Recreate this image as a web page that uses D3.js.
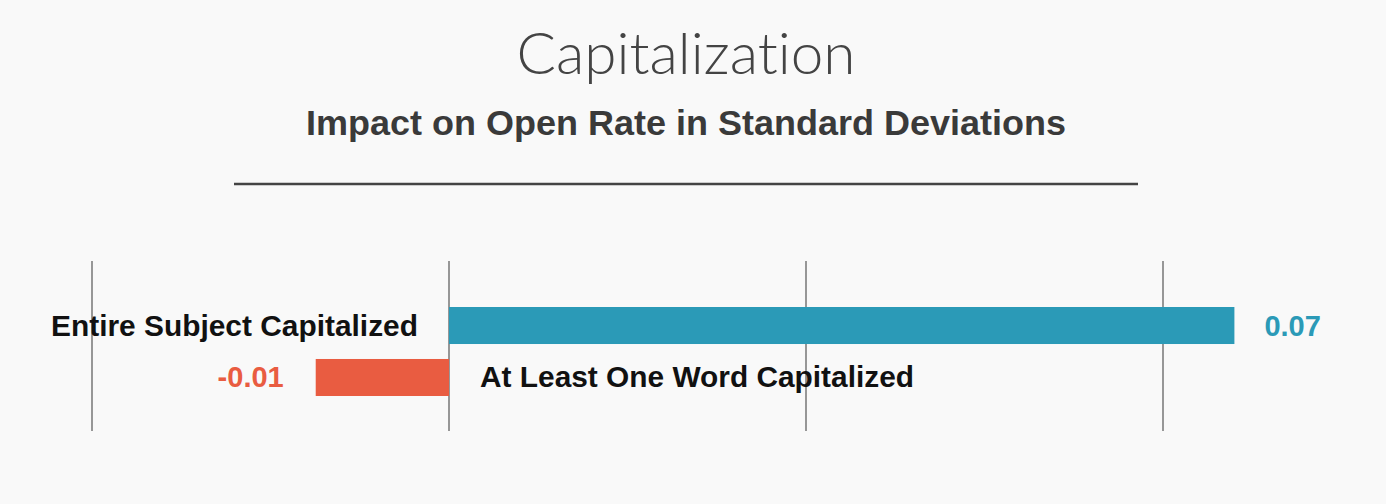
<!DOCTYPE html>
<html>
<head>
<meta charset="utf-8">
<script src="https://cdn.jsdelivr.net/npm/d3@7"></script>
<style>
  html, body { margin: 0; padding: 0; background: #f9f9f9; }
  svg { display: block; }
  text { font-variant-ligatures: none; }
</style>
</head>
<body>
<div id="chart"></div>
<script>
const categories = ["Entire Subject Capitalized", "At Least One Word Capitalized"];
const values = [0.066, -0.0112];
const valueLabels = ["0.07", "-0.01"];
const gridTicks = [-0.03, 0, 0.03, 0.06];
const colors = ["#2b9ab7", "#e95c41"];

const width = 1386;
const height = 504;

const svg = d3.select("#chart")
  .append("svg")
  .attr("width", width)
  .attr("height", height);

svg.append("rect")
  .attr("width", width)
  .attr("height", height)
  .attr("fill", "#f9f9f9");

// titles
svg.append("text")
  .attr("x", 686)
  .attr("y", 74)
  .attr("text-anchor", "middle")
  .attr("font-family", "Lato, 'Open Sans', sans-serif")
  .attr("font-weight", 300)
  .attr("font-size", 58)
  .attr("fill", "#444")
  .attr("textLength", 339)
  .attr("lengthAdjust", "spacingAndGlyphs")
  .text("Capitalization");

svg.append("text")
  .attr("x", 686)
  .attr("y", 135)
  .attr("text-anchor", "middle")
  .attr("font-family", "'Liberation Sans', Arial, sans-serif")
  .attr("font-weight", "bold")
  .attr("font-size", 35)
  .attr("fill", "#3a3a3a")
  .attr("textLength", 760)
  .attr("lengthAdjust", "spacingAndGlyphs")
  .text("Impact on Open Rate in Standard Deviations");

svg.append("line")
  .attr("x1", 234)
  .attr("x2", 1138)
  .attr("y1", 184)
  .attr("y2", 184)
  .attr("stroke", "#444")
  .attr("stroke-width", 2.5);

const x = d3.scaleLinear()
  .domain([-0.03, 0.06])
  .range([92, 1163]);

const y = d3.scaleBand()
  .domain(categories)
  .range([307, 396])
  .paddingInner(0.288)
  .paddingOuter(0);

// gridlines
svg.append("g")
  .selectAll("line")
  .data(gridTicks)
  .enter()
  .append("line")
  .attr("x1", d => x(d))
  .attr("x2", d => x(d))
  .attr("y1", 261)
  .attr("y2", 431)
  .attr("stroke", "#555")
  .attr("stroke-width", 1.2);

const rows = categories.map((c, i) => ({ cat: c, value: values[i], label: valueLabels[i], color: colors[i] }));

svg.append("g")
  .selectAll("rect")
  .data(rows)
  .enter()
  .append("rect")
  .attr("x", d => x(Math.min(0, d.value)))
  .attr("y", d => y(d.cat))
  .attr("width", d => Math.abs(x(d.value) - x(0)))
  .attr("height", y.bandwidth())
  .attr("fill", d => d.color);

// category labels on the opposite side of zero
svg.append("g")
  .selectAll("text")
  .data(rows)
  .enter()
  .append("text")
  .attr("x", d => d.value >= 0 ? x(0) - 31 : x(0) + 31)
  .attr("y", d => y(d.cat) + y.bandwidth() / 2 + 10)
  .attr("text-anchor", d => d.value >= 0 ? "end" : "start")
  .attr("font-family", "'Liberation Sans', Arial, sans-serif")
  .attr("font-weight", "bold")
  .attr("font-size", 29)
  .attr("fill", "#111")
  .attr("textLength", d => d.value >= 0 ? 367 : 434)
  .attr("lengthAdjust", "spacingAndGlyphs")
  .text(d => d.cat);

// value labels past the bar end
svg.append("g")
  .selectAll("text")
  .data(rows)
  .enter()
  .append("text")
  .attr("x", d => d.value >= 0 ? x(d.value) + 30 : x(d.value) - 32)
  .attr("y", d => y(d.cat) + y.bandwidth() / 2 + 10)
  .attr("text-anchor", d => d.value >= 0 ? "start" : "end")
  .attr("font-family", "'Liberation Sans', Arial, sans-serif")
  .attr("font-weight", "bold")
  .attr("font-size", 29)
  .attr("fill", d => d.color)
  .text(d => d.label);
</script>
</body>
</html>
